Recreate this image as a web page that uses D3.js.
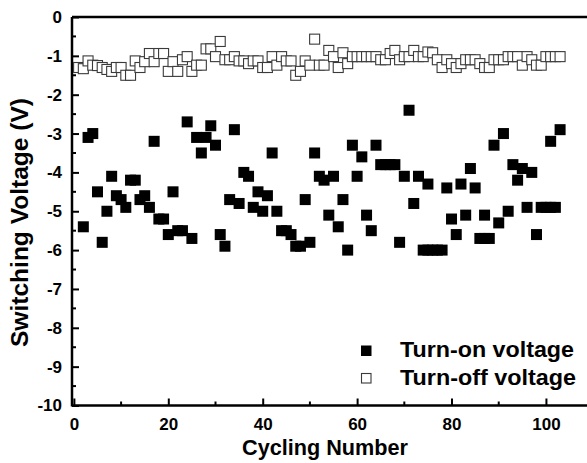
<!DOCTYPE html>
<html>
<head>
<meta charset="utf-8">
<script src="https://cdn.jsdelivr.net/npm/d3@7/dist/d3.min.js"></script>
<style>
  html, body { margin: 0; padding: 0; background: #fff; }
  svg { display: block; font-family: "Liberation Sans", Arial, sans-serif; }
</style>
</head>
<body>
<svg id="chart" width="587" height="463"></svg>
<script>
// Turn-on voltage per cycle (filled squares)
const onCycles = [2,3,4,5,6,7,8,9,10,11,12,13,14,15,16,17,18,19,20,21,22,23,24,25,26,27,28,29,30,
  31,32,33,34,35,36,37,38,39,40,41,42,43,44,45,46,47,48,49,50,51,52,53,54,55,56,57,58,59,60,
  61,62,63,64,65,66,67,68,69,70,71,72,73,74,75,75,76,77,78,79,80,81,82,83,84,85,86,87,87,88,
  89,90,91,92,93,94,95,96,97,98,99,100,101,101,102,103];
const onValues = [-5.4,-3.1,-3.0,-4.5,-5.8,-5.0,-4.1,-4.6,-4.7,-4.9,-4.2,-4.2,-4.7,-4.6,-4.9,-3.2,-5.2,-5.2,-5.6,
  -4.5,-5.5,-5.5,-2.7,-5.7,-3.1,-3.5,-3.1,-2.8,-3.3,-5.6,-5.9,-4.7,-2.9,-4.8,-4.0,-4.1,-4.9,-4.5,-5.0,
  -4.6,-3.5,-5.0,-5.5,-5.5,-5.6,-5.9,-5.9,-4.7,-5.8,-3.5,-4.1,-4.2,-5.1,-4.1,-5.4,-4.7,-6.0,-3.3,-4.1,
  -3.6,-5.1,-5.5,-3.3,-3.8,-3.8,-3.8,-3.8,-5.8,-4.1,-2.4,-4.8,-4.1,-6.0,-6.0,-4.3,-6.0,-6.0,-6.0,-4.4,
  -5.2,-5.6,-4.3,-5.1,-3.9,-4.4,-5.7,-5.7,-5.1,-5.7,-3.3,-5.3,-3.0,-5.0,-3.8,-4.2,-3.9,-4.9,-4.0,-5.6,
  -4.9,-4.9,-4.9,-3.2,-4.9,-2.9];

// Turn-off voltage per cycle (open squares), cycles 1..103
const offCycles = d3.range(1, 104);
const offValues = [-1.3,-1.33,-1.13,-1.24,-1.25,-1.3,-1.35,-1.4,-1.3,-1.3,-1.5,-1.5,-1.13,-1.3,-1.15,-0.94,
  -1.15,-0.94,-0.94,-1.4,-1.15,-1.4,-1.1,-1.02,-1.4,-1.24,-1.24,-0.82,-0.82,-1.02,-0.63,-1.1,-1.1,-1.02,
  -1.13,-1.13,-1.2,-1.13,-1.13,-1.3,-1.3,-1.02,-1.24,-1.02,-1.13,-1.13,-1.5,-1.4,-1.13,-1.24,-0.57,-1.24,
  -1.24,-0.86,-1.02,-1.3,-0.92,-1.2,-1.02,-1.02,-1.02,-1.02,-1.02,-1.02,-1.1,-1.1,-0.94,-0.86,-1.1,-1.02,
  -1.02,-0.86,-1.02,-1.02,-0.9,-0.92,-1.1,-1.3,-1.1,-1.2,-1.3,-1.2,-1.1,-1.1,-1.1,-1.2,-1.3,-1.3,-1.1,
  -1.1,-1.1,-1.02,-1.02,-1.02,-1.24,-1.02,-1.1,-1.24,-1.24,-1.02,-1.02,-1.02,-1.02];

const xTicks = [0, 20, 40, 60, 80, 100];
const yTicks = [0, -1, -2, -3, -4, -5, -6, -7, -8, -9, -10];
const legendLabels = ["Turn-on voltage", "Turn-off voltage"];

const svg = d3.select("#chart");
const plotLeft = 72, plotTop = 17, plotBottom = 405.5, plotRight = 587;

const x = d3.scaleLinear().domain([-0.4, 108.7]).range([plotLeft, plotRight]);
const y = d3.scaleLinear().domain([0, -10]).range([plotTop, plotBottom]);

// minor ticks
const xMinor = d3.range(10, 110, 20);
const yMinor = d3.range(-0.5, -10, -1);

const g = svg.append("g");

// top border line
g.append("line").attr("x1", plotLeft).attr("x2", plotRight).attr("y1", plotTop).attr("y2", plotTop)
  .attr("stroke", "#000").attr("stroke-width", 2.5);

// x axis
const xAxis = d3.axisBottom(x).tickValues(xTicks).tickSize(-7).tickPadding(12).tickFormat(d3.format("d"));
const xg = g.append("g").attr("transform", `translate(0,${plotBottom})`).call(xAxis);
xg.selectAll(".tick line").attr("stroke-width", 2);
xg.select(".domain").remove();
xg.append("line").attr("x1", plotLeft).attr("x2", plotRight).attr("stroke", "#000").attr("stroke-width", 2.5);
xg.selectAll(".tickminor").data(xMinor).enter().append("line")
  .attr("x1", d => x(d)).attr("x2", d => x(d)).attr("y1", 0).attr("y2", -4)
  .attr("stroke", "#000").attr("stroke-width", 2);

// y axis
const yAxis = d3.axisLeft(y).tickValues(yTicks).tickSize(-7).tickPadding(10)
  .tickFormat(d => d3.format("d")(d).replace("\u2212", "-"));
const yg = g.append("g").attr("transform", `translate(${plotLeft},0)`).call(yAxis);
yg.selectAll(".tick line").attr("stroke-width", 2);
yg.select(".domain").remove();
yg.append("line").attr("y1", plotTop).attr("y2", plotBottom + 1).attr("stroke", "#000").attr("stroke-width", 2.5);
yg.selectAll(".tickminor").data(yMinor).enter().append("line")
  .attr("y1", d => y(d)).attr("y2", d => y(d)).attr("x1", 0).attr("x2", 4)
  .attr("stroke", "#000").attr("stroke-width", 2);

svg.selectAll(".tick text")
  .attr("font-size", 17).attr("font-weight", "bold").attr("fill", "#000")
  .attr("font-family", "'Liberation Sans', Arial, sans-serif");

// titles
svg.append("text").attr("x", 325).attr("y", 455).attr("text-anchor", "middle")
  .attr("font-size", 22.5).attr("font-weight", "bold")
  .attr("textLength", 166).attr("lengthAdjust", "spacingAndGlyphs").text("Cycling Number");
svg.append("text").attr("transform", "translate(28,222.5) rotate(-90)").attr("text-anchor", "middle")
  .attr("font-size", 23.5).attr("font-weight", "bold")
  .attr("textLength", 249).attr("lengthAdjust", "spacingAndGlyphs").text("Switching Voltage (V)");

// data marks
const sOff = 10, sOn = 11;
const offData = offCycles.map((c, i) => ({c, v: offValues[i]}));
const onData = onCycles.map((c, i) => ({c, v: onValues[i]}));

g.append("g").selectAll("rect").data(offData).enter().append("rect")
  .attr("x", d => x(d.c) - sOff / 2).attr("y", d => y(d.v) - sOff / 2)
  .attr("width", sOff).attr("height", sOff)
  .attr("fill", "#fff").attr("stroke", "#3a3a3a").attr("stroke-width", 1.1);

g.append("g").selectAll("rect").data(onData).enter().append("rect")
  .attr("x", d => x(d.c) - sOn / 2).attr("y", d => y(d.v) - sOn / 2)
  .attr("width", sOn).attr("height", sOn).attr("fill", "#000");

// legend
const lg = svg.append("g");
lg.append("rect").attr("x", 361).attr("y", 345.5).attr("width", 10.5).attr("height", 10.5).attr("fill", "#000");
lg.append("rect").attr("x", 361.5).attr("y", 373.5).attr("width", 9.5).attr("height", 9.5)
  .attr("fill", "#fff").attr("stroke", "#3a3a3a").attr("stroke-width", 1.1);
lg.selectAll("text").data(legendLabels).enter().append("text")
  .attr("x", 400).attr("y", (d, i) => 357 + i * 28)
  .attr("font-size", 22.5).attr("font-weight", "bold")
  .attr("textLength", (d, i) => i === 0 ? 174 : 176).attr("lengthAdjust", "spacingAndGlyphs")
  .text(d => d);
</script>
</body>
</html>
